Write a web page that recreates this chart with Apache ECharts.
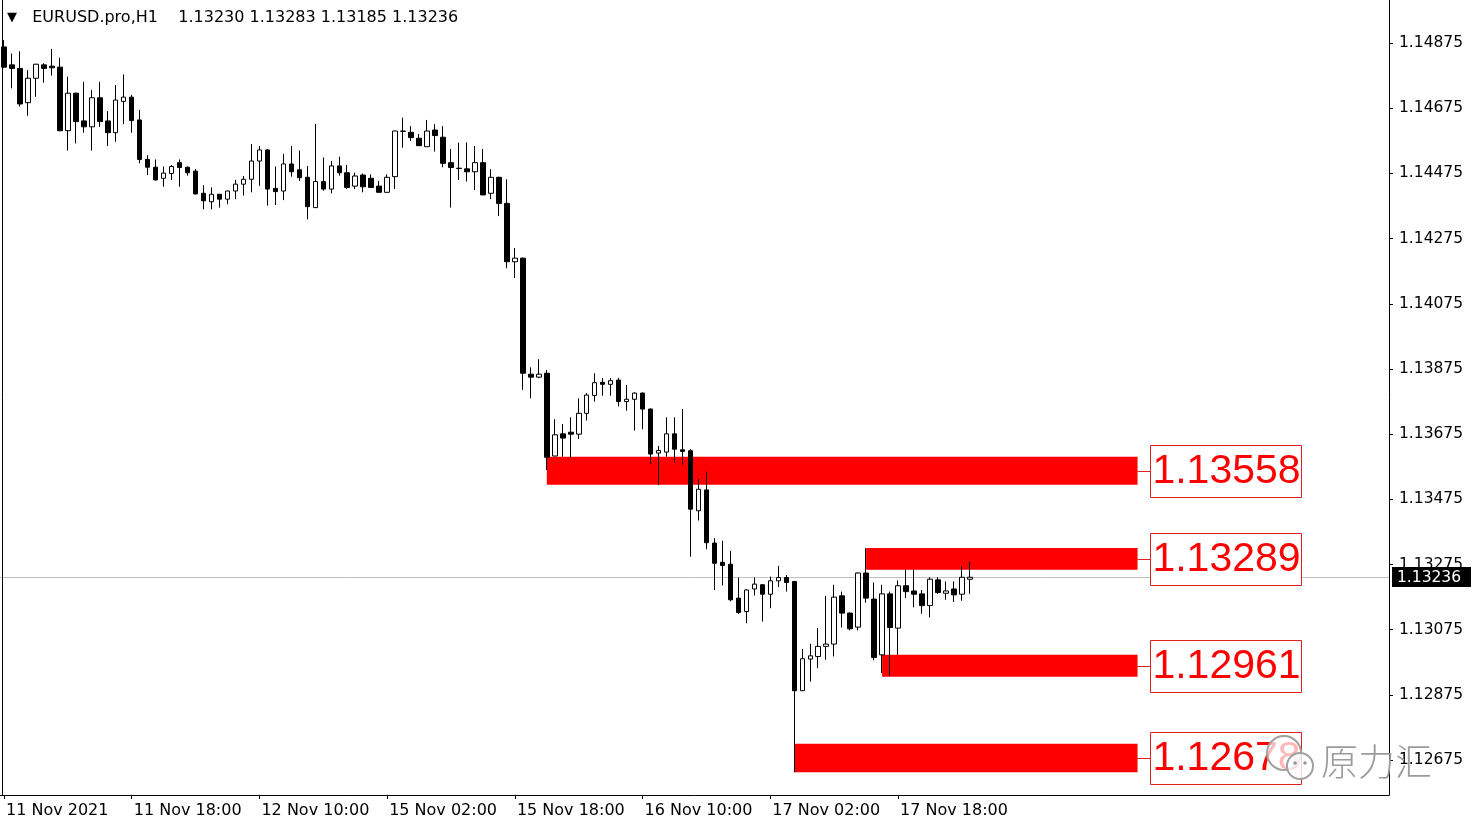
<!DOCTYPE html>
<html>
<head>
<meta charset="utf-8">
<script src="https://cdn.jsdelivr.net/npm/echarts@6.0.0/dist/echarts.min.js"></script>
<style>
html,body{margin:0;padding:0;background:#fff;}
#chart{width:1481px;height:827px;}
</style>
</head>
<body>
<div id="chart"></div>
<script>
const symbolName = 'EURUSD.pro,H1';
const tickLabels = ['11 Nov 2021','11 Nov 18:00','12 Nov 10:00','15 Nov 02:00','15 Nov 18:00','16 Nov 10:00','17 Nov 02:00','17 Nov 18:00'];
const priceTicks = [1.12675,1.12875,1.13075,1.13275,1.13475,1.13675,1.13875,1.14075,1.14275,1.14475,1.14675,1.14875];

const opens = [1.14863,1.14808,1.14797,1.14692,1.14767,1.14808,1.14804,1.14801,1.14606,1.14721,
1.14636,1.14618,1.14707,1.14636,1.14600,1.14696,1.14709,1.14639,1.14518,1.14494,
1.14460,1.14475,1.14508,1.14494,1.14482,1.14414,1.14388,1.14411,1.14396,1.14421,
1.14442,1.14457,1.14513,1.14547,1.14429,1.14421,1.14504,1.14486,1.14463,1.14370,
1.14450,1.14427,1.14498,1.14477,1.14436,1.14470,1.14460,1.14436,1.14417,1.14465,
1.14605,1.14601,1.14583,1.14557,1.14608,1.14586,1.14508,1.14491,1.14489,1.14480,
1.14508,1.14414,1.14463,1.14383,1.14204,1.14215,1.13859,1.13850,1.13862,1.13608,
1.13676,1.13681,1.13675,1.13739,1.13794,1.13834,1.13828,1.13841,1.13775,1.13782,
1.13801,1.13752,1.13617,1.13620,1.13676,1.13627,1.13624,1.13440,1.13504,1.13341,
1.13282,1.13276,1.13172,1.13131,1.13200,1.13213,1.13184,1.13225,1.13235,1.13223,
1.12888,1.12985,1.12993,1.13024,1.13031,1.13179,1.13126,1.13083,1.13249,1.13169,
1.12998,1.13185,1.13080,1.13210,1.13194,1.13185,1.13149,1.13228,1.13187,1.13200,
1.13184,1.13230];
const closes = [1.14801,1.14797,1.14688,1.14767,1.14810,1.14797,1.14799,1.14606,1.14721,1.14634,
1.14618,1.14707,1.14634,1.14600,1.14700,1.14709,1.14637,1.14518,1.14494,1.14455,
1.14476,1.14496,1.14493,1.14477,1.14412,1.14391,1.14411,1.14396,1.14421,1.14442,
1.14457,1.14513,1.14547,1.14427,1.14419,1.14504,1.14480,1.14462,1.14373,1.14450,
1.14427,1.14498,1.14477,1.14432,1.14467,1.14434,1.14432,1.14417,1.14463,1.14605,
1.14604,1.14585,1.14560,1.14605,1.14591,1.14506,1.14493,1.14490,1.14480,1.14508,
1.14409,1.14463,1.14383,1.14204,1.14215,1.13862,1.13850,1.13859,1.13604,1.13673,
1.13663,1.13675,1.13739,1.13795,1.13833,1.13828,1.13839,1.13775,1.13782,1.13801,
1.13752,1.13614,1.13625,1.13676,1.13629,1.13622,1.13445,1.13506,1.13342,1.13279,
1.13272,1.13167,1.13128,1.13197,1.13215,1.13184,1.13225,1.13235,1.13220,1.12888,
1.12986,1.12995,1.13024,1.13031,1.13175,1.13126,1.13078,1.13249,1.13172,1.12990,
1.13185,1.13082,1.13210,1.13192,1.13184,1.13149,1.13230,1.13189,1.13194,1.13182,
1.13236,1.13236];
const lows = [1.14798,1.14736,1.14680,1.14652,1.14710,1.14753,1.14775,1.14604,1.14545,1.14567,
1.14600,1.14545,1.14618,1.14559,1.14572,1.14626,1.14600,1.14506,1.14470,1.14453,
1.14434,1.14455,1.14434,1.14468,1.14411,1.14365,1.14365,1.14370,1.14380,1.14396,
1.14407,1.14417,1.14437,1.14376,1.14378,1.14393,1.14465,1.14452,1.14334,1.14369,
1.14422,1.14414,1.14468,1.14427,1.14427,1.14417,1.14431,1.14416,1.14416,1.14427,
1.14554,1.14575,1.14559,1.14556,1.14542,1.14494,1.14370,1.14455,1.14450,1.14424,
1.14408,1.14396,1.14344,1.14184,1.14154,1.13811,1.13785,1.13847,1.13565,1.13607,
1.13606,1.13601,1.13660,1.13717,1.13775,1.13793,1.13793,1.13760,1.13747,1.13686,
1.13690,1.13584,1.13519,1.13606,1.13588,1.13581,1.13299,1.13410,1.13322,1.13197,
1.13211,1.13162,1.13123,1.13095,1.13180,1.13100,1.13141,1.13206,1.13192,1.12638,
1.12887,1.12916,1.12957,1.12983,1.12993,1.13082,1.13073,1.13073,1.13158,1.12981,
1.12942,1.12934,1.12998,1.13172,1.13144,1.13124,1.13113,1.13185,1.13167,1.13160,
1.13164,1.13185];
const highs = [1.14884,1.14843,1.14850,1.14792,1.14811,1.14813,1.14857,1.14830,1.14772,1.14723,
1.14756,1.14731,1.14756,1.14666,1.14746,1.14779,1.14716,1.14670,1.14531,1.14518,
1.14496,1.14501,1.14518,1.14496,1.14488,1.14439,1.14432,1.14412,1.14422,1.14455,
1.14467,1.14565,1.14559,1.14550,1.14496,1.14535,1.14559,1.14545,1.14498,1.14627,
1.14524,1.14513,1.14526,1.14501,1.14477,1.14475,1.14472,1.14452,1.14472,1.14606,
1.14646,1.14620,1.14596,1.14639,1.14626,1.14620,1.14550,1.14569,1.14570,1.14559,
1.14550,1.14488,1.14465,1.14457,1.14246,1.14217,1.13880,1.13905,1.13872,1.13721,
1.13706,1.13727,1.13785,1.13801,1.13862,1.13847,1.13847,1.13848,1.13826,1.13803,
1.13803,1.13754,1.13639,1.13727,1.13727,1.13752,1.13629,1.13537,1.13560,1.13356,
1.13348,1.13317,1.13235,1.13199,1.13235,1.13215,1.13238,1.13271,1.13243,1.13225,
1.13016,1.13032,1.13080,1.13179,1.13213,1.13192,1.13128,1.13251,1.13325,1.13220,
1.13213,1.13192,1.13226,1.13259,1.13259,1.13197,1.13236,1.13236,1.13223,1.13223,
1.13269,1.13283];

// horizontal levels (rectangles) drawn from a bar index to the right
const levelStartIdx = [68, 108, 110, 99];
const levelTops = [1.13606, 1.13326, 1.12998, 1.12725];
const levelBottoms = [1.13520, 1.13259, 1.12931, 1.12638];
const levelLabels = ['1.13558', '1.13289', '1.12961', '1.12678'];
const levelEndIdx = 142;

// hourly bar times (weekends skipped), including empty future bars
const totalBars = 174;
const categories = [];
(function(){
  let t = Date.UTC(2021, 10, 11, 2);
  while (categories.length < totalBars) {
    const d = new Date(t);
    const wd = d.getUTCDay();
    if (wd !== 0 && wd !== 6) {
      categories.push(d.getUTCDate() + ' Nov ' + String(d.getUTCHours()).padStart(2, '0') + ':00');
    }
    t += 3600000;
  }
})();

const nBars = opens.length;
const candleData = opens.map((o, i) => [o, closes[i], lows[i], highs[i]]);
const levelData = levelStartIdx.map((s, i) => [s, levelTops[i], levelBottoms[i]]);
const last = nBars - 1;
const FONT = 'DejaVu Sans';

const chart = echarts.init(document.getElementById('chart'), null, {renderer: 'canvas'});
chart.setOption({
  animation: false,
  backgroundColor: '#ffffff',
  title: {
    text: '{t|▼}   ' + symbolName + '    ' + [opens[last], highs[last], lows[last], closes[last]].map(v => v.toFixed(5)).join(' '),
    left: 7, top: 10, padding: 0,
    textStyle: {
      fontFamily: FONT, fontSize: 16, fontWeight: 'normal', color: '#000',
      rich: { t: { fontFamily: FONT, fontSize: 13, color: '#000', padding: [0, 0, 1, 0] } }
    }
  },
  grid: { left: 0, right: 92, top: 0, bottom: 32 },
  xAxis: {
    type: 'category',
    data: categories,
    boundaryGap: true,
    axisLine: { show: true, lineStyle: { color: '#000', width: 1 } },
    axisTick: {
      show: true, alignWithLabel: true, length: 4,
      interval: (idx) => idx % 16 === 0 && idx < nBars,
      lineStyle: { color: '#000' }
    },
    axisLabel: {
      interval: (idx) => idx % 16 === 0 && idx < nBars,
      formatter: (val, idx) => (idx % 16 === 0 && idx < nBars) ? (tickLabels[idx / 16] || '') : '',
      align: 'left', padding: [0, 0, 0, 2], margin: 8,
      fontFamily: FONT, fontSize: 16, color: '#000'
    },
    splitLine: { show: false }
  },
  yAxis: {
    type: 'value',
    position: 'right',
    min: 1.12568, max: 1.15007,
    axisLine: { show: true, lineStyle: { color: '#000', width: 1 } },
    axisTick: { show: true, length: 4, customValues: priceTicks, lineStyle: { color: '#000' } },
    axisLabel: {
      customValues: priceTicks,
      formatter: v => v.toFixed(5),
      margin: 10, fontFamily: FONT, fontSize: 15.5, color: '#000'
    },
    splitLine: { show: false }
  },
  series: [
    {
      type: 'custom',
      name: 'priceLine',
      z: 1,
      silent: true,
      data: [[0, closes[last]]],
      encode: { x: 0, y: 1 },
      renderItem: function (params, api) {
        const p = api.coord([0, api.value(1)]);
        const cs = params.coordSys;
        const y = Math.round(p[1]) + 0.5;
        return {
          type: 'group',
          children: [
            { type: 'line', shape: { x1: cs.x, y1: y, x2: cs.x + cs.width, y2: y }, style: { stroke: '#c0c0c0', lineWidth: 1 } },
            { type: 'rect', z2: 10, shape: { x: cs.x + cs.width + 3, y: y - 10.5, width: 79, height: 20 }, style: { fill: '#000' } },
            { type: 'text', z2: 11, style: { text: api.value(1).toFixed(5), x: cs.x + cs.width + 8, y: y + 0.5, verticalAlign: 'middle', fill: '#fff', font: '15.5px "DejaVu Sans"' } }
          ]
        };
      }
    },
    {
      type: 'custom',
      name: 'levels',
      z: 1,
      silent: true,
      data: levelData,
      encode: { x: 0, y: [1, 2] },
      renderItem: function (params, api) {
        const p1 = api.coord([api.value(0), api.value(1)]);
        const p2 = api.coord([levelEndIdx, api.value(2)]);
        return {
          type: 'rect',
          shape: { x: p1[0], y: p1[1], width: p2[0] - p1[0], height: p2[1] - p1[1] },
          style: { fill: '#ff0000' }
        };
      }
    },
    {
      type: 'candlestick',
      name: 'EURUSD',
      z: 2,
      data: candleData,
      barWidth: 5,
      itemStyle: { color: '#ffffff', color0: '#000000', borderColor: '#000000', borderColor0: '#000000', borderWidth: 1 },
      emphasis: { disabled: true }
    },
    {
      type: 'custom',
      name: 'levelLabels',
      z: 3,
      silent: true,
      data: levelData,
      encode: { x: 0, y: [1, 2] },
      renderItem: function (params, api) {
        const i = params.dataIndex;
        const top = api.coord([levelEndIdx, api.value(1)]);
        const bot = api.coord([levelEndIdx, api.value(2)]);
        const midY = Math.round((top[1] + bot[1]) / 2);
        const x0 = top[0];
        const bx = Math.round(x0 + 12) + 0.5;
        return {
          type: 'group',
          children: [
            { type: 'line', shape: { x1: x0, y1: midY + 0.5, x2: bx, y2: midY + 0.5 }, style: { stroke: '#e02020', lineWidth: 1 } },
            { type: 'rect', shape: { x: bx, y: midY - 25.5, width: 151, height: 52 }, style: { fill: '#ffffff', stroke: '#e02020', lineWidth: 1 } },
            { type: 'text', style: { text: levelLabels[i], x: bx + 76, y: midY + 1, align: 'center', verticalAlign: 'middle', fill: '#ff0000', font: '41px "Liberation Sans"' } }
          ]
        };
      }
    }
  ],
  graphic: [
    { type: 'line', silent: true, shape: { x1: 2.5, y1: 0, x2: 2.5, y2: 795 }, style: { stroke: '#000', lineWidth: 1 }, z: 5 },
    { type: 'circle', silent: true, z: 100, shape: { cx: 1284, cy: 753, r: 17 }, style: { fill: 'rgba(255,255,255,0.72)', stroke: '#a0a0a0', lineWidth: 2 } },
    { type: 'circle', silent: true, z: 101, shape: { cx: 1300, cy: 766, r: 13 }, style: { fill: 'rgba(255,255,255,0.8)', stroke: '#a0a0a0', lineWidth: 2 } },
    { type: 'circle', silent: true, z: 102, shape: { cx: 1295, cy: 763, r: 1.8 }, style: { fill: '#9a9a9a' } },
    { type: 'circle', silent: true, z: 102, shape: { cx: 1305, cy: 763, r: 1.8 }, style: { fill: '#9a9a9a' } },
    { type: 'text', silent: true, z: 102, style: { text: '原力汇', x: 1321, y: 762, verticalAlign: 'middle', font: '300 37px "Noto Sans CJK SC"', fill: '#9c9c9c' } }
  ]
});
</script>
</body>
</html>
